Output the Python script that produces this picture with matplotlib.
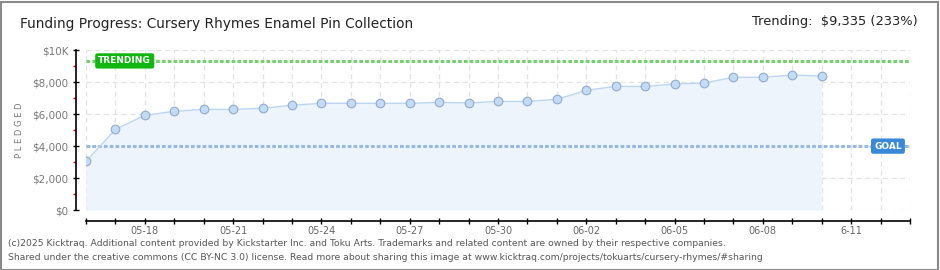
import matplotlib
matplotlib.use("Agg")
import matplotlib.pyplot as plt
import matplotlib.patches as patches
from matplotlib.ticker import FixedLocator

plt.rcParams['font.family'] = ['DejaVu Sans']

# daily pledged totals, 05-16 .. 06-10
days = list(range(26))
pledged = [3040, 5050, 5930, 6180, 6300, 6300, 6370, 6560, 6680, 6680,
           6680, 6680, 6740, 6700, 6800, 6800, 6930, 7490, 7740, 7740,
           7890, 7950, 8310, 8310, 8450, 8390]
n_days = 28
tick_days = [2, 5, 8, 11, 14, 17, 20, 23, 26]
tick_labels = ["05-18", "05-21", "05-24", "05-27", "05-30", "06-02",
               "06-05", "06-08", "6-11"]
goal = 4000
trending = 9335
y_vals = [0, 2000, 4000, 6000, 8000, 10000]
y_labels = ["$0", "$2,000", "$4,000", "$6,000", "$8,000", "$10K"]

W, H = 940, 270
PX = 0.72  # points per pixel at 100 dpi
fig = plt.figure(figsize=(W / 100, H / 100), dpi=100)
ax = fig.add_axes([86 / W, (H - 210) / H, (910 - 86) / W, (210 - 50.3) / H])

ax.fill_between(days, 0, pledged, color="#edf4fc", lw=0)
ax.plot(days, pledged, color="#bcd6f2", lw=1, zorder=3)
ax.plot(days, pledged, ls="none", marker="o", ms=6.2, mfc="#c2dbf6",
        mec="#92a9c8", mew=0.8, zorder=4)

ax.axhline(trending, color="#74cf6e", lw=2.2, ls=(0, (1.2, 0.7)), zorder=2)
ax.axhline(goal, color="#96b8e2", lw=2.2, ls=(0, (1.2, 0.7)), zorder=2)

ax.text(0.42, trending, "TRENDING", color="white", fontsize=6.5,
        fontweight="bold", ha="left", va="center",
        bbox=dict(boxstyle="round,pad=0.35,rounding_size=0.25", fc="#11b611",
                  ec="none"), zorder=5)
ax.text(27.72, goal, "GOAL", color="white", fontsize=6.5,
        fontweight="bold", ha="right", va="center",
        bbox=dict(boxstyle="round,pad=0.35,rounding_size=0.25", fc="#3a88d8",
                  ec="none"), zorder=5)

ax.set_xlim(0, n_days)
ax.set_ylim(0, 10000)

ax.set_xticks(range(n_days + 1))
ax.set_xticklabels(["" if d not in tick_days else tick_labels[tick_days.index(d)]
                    for d in range(n_days + 1)])
ax.set_yticks(y_vals)
ax.set_yticklabels(y_labels)
ax.yaxis.set_minor_locator(FixedLocator([1000, 3000, 5000, 7000, 9000]))

ax.tick_params(axis="x", direction="inout", length=5, width=1, colors="black",
               labelcolor="#666666", labelsize=7, pad=1)
ax.tick_params(axis="y", which="major", direction="inout", length=4.5, width=1,
               colors="black", labelcolor="#777777", labelsize=7.5, pad=3)
ax.tick_params(axis="y", which="minor", direction="out", length=2.5, width=1,
               colors="#dd0000")

for s in ["top", "right"]:
    ax.spines[s].set_visible(False)
ax.spines["left"].set_position(("outward", 10 * PX))
ax.spines["bottom"].set_position(("outward", 11 * PX))
ax.spines["left"].set_linewidth(1.2)
ax.spines["bottom"].set_linewidth(1.2)

ax.grid(True, color="#e2e2e2", ls=(0, (4, 3)), lw=0.9)
ax.set_axisbelow(True)

fig.text(20 / W, 1 - 130 / H, "P L E D G E D", color="#777777", fontsize=6,
         rotation=90, ha="center", va="center")

fig.text(20 / W, 1 - 24 / H, "Funding Progress: Cursery Rhymes Enamel Pin Collection",
         fontsize=9.9, color="#222222", va="center", ha="left")
fig.text(918 / W, 1 - 22 / H, "Trending:  \\$9,335 (233%)",
         fontsize=9.4, color="#222222", va="center", ha="right")

fig.text(8 / W, 1 - 243 / H,
         "(c)2025 Kicktraq. Additional content provided by Kickstarter Inc. and Toku Arts. "
         "Trademarks and related content are owned by their respective companies.",
         fontsize=6.7, color="#555555", va="center", ha="left")
fig.text(8 / W, 1 - 257 / H,
         "Shared under the creative commons (CC BY-NC 3.0) license. Read more about sharing "
         "this image at www.kicktraq.com/projects/tokuarts/cursery-rhymes/#sharing",
         fontsize=6.7, color="#555555", va="center", ha="left")

fig.add_artist(patches.Rectangle((0.5 / W, 0.5 / H), (W - 2.5) / W, (H - 2.5) / H,
                                 transform=fig.transFigure, fill=False,
                                 ec="#8a8a8a", lw=1.5))

fig.savefig("out.png", dpi=100)
